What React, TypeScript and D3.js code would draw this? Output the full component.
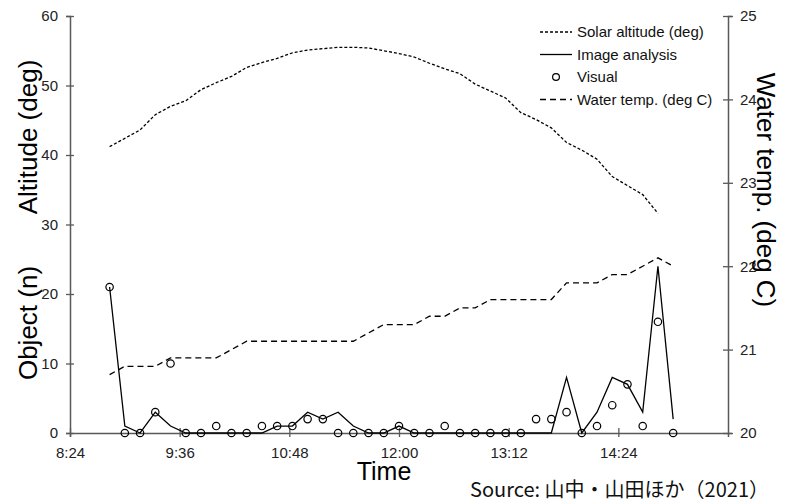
import { useEffect, useRef } from "react";
import * as d3 from "d3";

// observation times, every 10 minutes
const times = [
  "8:50", "9:00", "9:10", "9:20", "9:30", "9:40", "9:50",
  "10:00", "10:10", "10:20", "10:30", "10:40", "10:50",
  "11:00", "11:10", "11:20", "11:30", "11:40", "11:50",
  "12:00", "12:10", "12:20", "12:30", "12:40", "12:50",
  "13:00", "13:10", "13:20", "13:30", "13:40", "13:50",
  "14:00", "14:10", "14:20", "14:30", "14:40", "14:50", "15:00",
];

const imageAnalysis = [
  21, 1, 0, 3, 1, 0, 0,
  0, 0, 0, 0, 1, 1,
  3, 2, 3, 1, 0, 0,
  1, 0, 0, 0, 0, 0,
  0, 0, 0, 0, 0, 8,
  0, 3, 8, 7, 3, 24, 2,
];

const visual = [
  21, 0, 0, 3, 10, 0, 0,
  1, 0, 0, 1, 1, 1,
  2, 2, 0, 0, 0, 0,
  1, 0, 0, 1, 0, 0,
  0, 0, 0, 2, 2, 3,
  0, 1, 4, 7, 1, 16, 0,
];

const waterTemp = [
  20.7, 20.8, 20.8, 20.8, 20.9, 20.9, 20.9,
  20.9, 21.0, 21.1, 21.1, 21.1, 21.1,
  21.1, 21.1, 21.1, 21.1, 21.2, 21.3,
  21.3, 21.3, 21.4, 21.4, 21.5, 21.5,
  21.6, 21.6, 21.6, 21.6, 21.6, 21.8,
  21.8, 21.8, 21.9, 21.9, 22.0, 22.1, 22.0,
];

// solar altitude stops at 14:50
const solarAltitude = [
  41.2, 42.4, 43.6, 45.8, 47.0, 47.8, 49.4,
  50.4, 51.3, 52.6, 53.3, 53.9, 54.7,
  55.1, 55.3, 55.5, 55.5, 55.4, 55.0,
  54.6, 54.1, 53.2, 52.4, 51.7, 50.2,
  49.2, 48.2, 46.1, 45.1, 43.9, 41.8,
  40.7, 39.4, 36.9, 35.6, 34.3, 31.6,
];

const xTickLabels = ["8:24", "9:36", "10:48", "12:00", "13:12", "14:24"];
const xDomain = ["8:24", "15:36"];
const leftTicks = [0, 10, 20, 30, 40, 50, 60];
const rightTicks = [20, 21, 22, 23, 24, 25];

const legendItems = [
  "Solar altitude (deg)",
  "Image analysis",
  "Visual",
  "Water temp. (deg C)",
];

const toMin = (s: string) => {
  const [h, m] = s.split(":").map(Number);
  return h * 60 + m;
};

const FONT = "'Liberation Sans', Arial, sans-serif";

const App = () => {
  const ref = useRef<SVGSVGElement>(null);

  useEffect(() => {
    const svg = d3.select(ref.current);
    svg.selectAll("*").remove();

    const x = d3
      .scaleLinear()
      .domain(xDomain.map(toMin))
      .range([70, 728]);
    const yLeft = d3.scaleLinear().domain([0, 60]).range([433, 16]);
    const yRight = d3.scaleLinear().domain([20, 25]).range([433, 16]);

    const axisColor = "#595959";

    // left axis
    const gl = svg
      .append("g")
      .attr("transform", "translate(70,0)")
      .call(
        d3.axisLeft(yLeft).tickValues(leftTicks).tickSize(4).tickPadding(8)
      );
    gl.select(".domain").attr("stroke", axisColor).attr("stroke-width", 1.5);
    gl.selectAll(".tick line")
      .attr("x1", -4)
      .attr("x2", 4)
      .attr("stroke", axisColor)
      .attr("stroke-width", 1.3);
    gl.selectAll(".tick text")
      .attr("font-family", FONT)
      .attr("font-size", 15)
      .attr("fill", "#222");

    // right axis
    const gr = svg
      .append("g")
      .attr("transform", "translate(728,0)")
      .call(
        d3
          .axisRight(yRight)
          .tickValues(rightTicks)
          .tickFormat(d3.format("d"))
          .tickSize(4)
          .tickPadding(8)
      );
    gr.select(".domain").attr("stroke", axisColor).attr("stroke-width", 1.5);
    gr.selectAll(".tick line")
      .attr("x1", -5)
      .attr("x2", 5)
      .attr("stroke", axisColor)
      .attr("stroke-width", 1.3);
    gr.selectAll(".tick text")
      .attr("font-family", FONT)
      .attr("font-size", 15)
      .attr("fill", "#222");

    // bottom axis
    const gb = svg
      .append("g")
      .attr("transform", "translate(0,433)")
      .call(
        d3
          .axisBottom(x)
          .tickValues(xTickLabels.map(toMin))
          .tickFormat((d, i) => xTickLabels[i])
          .tickSize(4)
          .tickPadding(10)
      );
    gb.select(".domain").attr("stroke", axisColor).attr("stroke-width", 1.5);
    gb.selectAll(".tick line")
      .attr("y1", -5)
      .attr("y2", 4)
      .attr("stroke", axisColor)
      .attr("stroke-width", 1.3);
    gb.selectAll(".tick text")
      .attr("font-family", FONT)
      .attr("font-size", 15)
      .attr("fill", "#222");

    const tmins = times.map(toMin);

    // water temperature
    svg
      .append("path")
      .datum(waterTemp)
      .attr("fill", "none")
      .attr("stroke", "#000")
      .attr("stroke-width", 1.3)
      .attr("stroke-dasharray", "6,4")
      .attr(
        "d",
        d3
          .line<number>()
          .x((d, i) => x(tmins[i]))
          .y((d) => yRight(d))
      );

    // solar altitude
    svg
      .append("path")
      .datum(solarAltitude)
      .attr("fill", "none")
      .attr("stroke", "#000")
      .attr("stroke-width", 1.3)
      .attr("stroke-dasharray", "3,2")
      .attr(
        "d",
        d3
          .line<number>()
          .x((d, i) => x(tmins[i]))
          .y((d) => yLeft(d))
      );

    // image analysis
    svg
      .append("path")
      .datum(imageAnalysis)
      .attr("fill", "none")
      .attr("stroke", "#000")
      .attr("stroke-width", 1.3)
      .attr(
        "d",
        d3
          .line<number>()
          .x((d, i) => x(tmins[i]))
          .y((d) => yLeft(d))
      );

    // visual counts
    svg
      .append("g")
      .selectAll("circle")
      .data(visual)
      .enter()
      .append("circle")
      .attr("cx", (d, i) => x(tmins[i]))
      .attr("cy", (d) => yLeft(d))
      .attr("r", 3.7)
      .attr("fill", "none")
      .attr("stroke", "#000")
      .attr("stroke-width", 1.2);

    // legend
    const lg = svg.append("g").attr("transform", "translate(540,32)");
    const rowH = 22.5;
    lg.selectAll("text")
      .data(legendItems)
      .enter()
      .append("text")
      .attr("x", 37)
      .attr("y", (d, i) => i * rowH + 5)
      .attr("font-family", FONT)
      .attr("font-size", 15)
      .attr("fill", "#111")
      .text((d) => d);
    const sample = (i: number, dash: string | null) =>
      lg
        .append("line")
        .attr("x1", 0)
        .attr("x2", 32)
        .attr("y1", i * rowH)
        .attr("y2", i * rowH)
        .attr("stroke", "#000")
        .attr("stroke-width", 1.3)
        .attr("stroke-dasharray", dash);
    sample(0, "3,2");
    sample(1, null);
    lg.append("circle")
      .attr("cx", 16)
      .attr("cy", 2 * rowH)
      .attr("r", 3.4)
      .attr("fill", "none")
      .attr("stroke", "#000")
      .attr("stroke-width", 1.2);
    sample(3, "6,4");

    // axis titles
    const title = (
      t: string,
      tx: number,
      ty: number,
      rot: number,
      size: number
    ) =>
      svg
        .append("text")
        .attr("transform", `translate(${tx},${ty}) rotate(${rot})`)
        .attr("text-anchor", "middle")
        .attr("font-family", FONT)
        .attr("font-size", size)
        .attr("fill", "#000")
        .text(t);
    title("Altitude (deg)", 37, 137, -90, 26);
    title("Object (n)", 37, 323, -90, 26);
    title("Water temp. (deg C)", 757, 190, 90, 26);
    title("Time", 384, 480, 0, 25);

    svg
      .append("text")
      .attr("x", 769)
      .attr("y", 497)
      .attr("text-anchor", "end")
      .attr("font-family", "'Noto Sans CJK JP', 'Noto Sans', sans-serif")
      .attr("font-size", 20)
      .attr("fill", "#111")
      .text("Source: 山中・山田ほか（2021）");
  }, []);

  return (
    <svg
      ref={ref}
      width={791}
      height={502}
      style={{ position: "absolute", left: 0, top: 0, background: "#fff" }}
    />
  );
};

export default App;
